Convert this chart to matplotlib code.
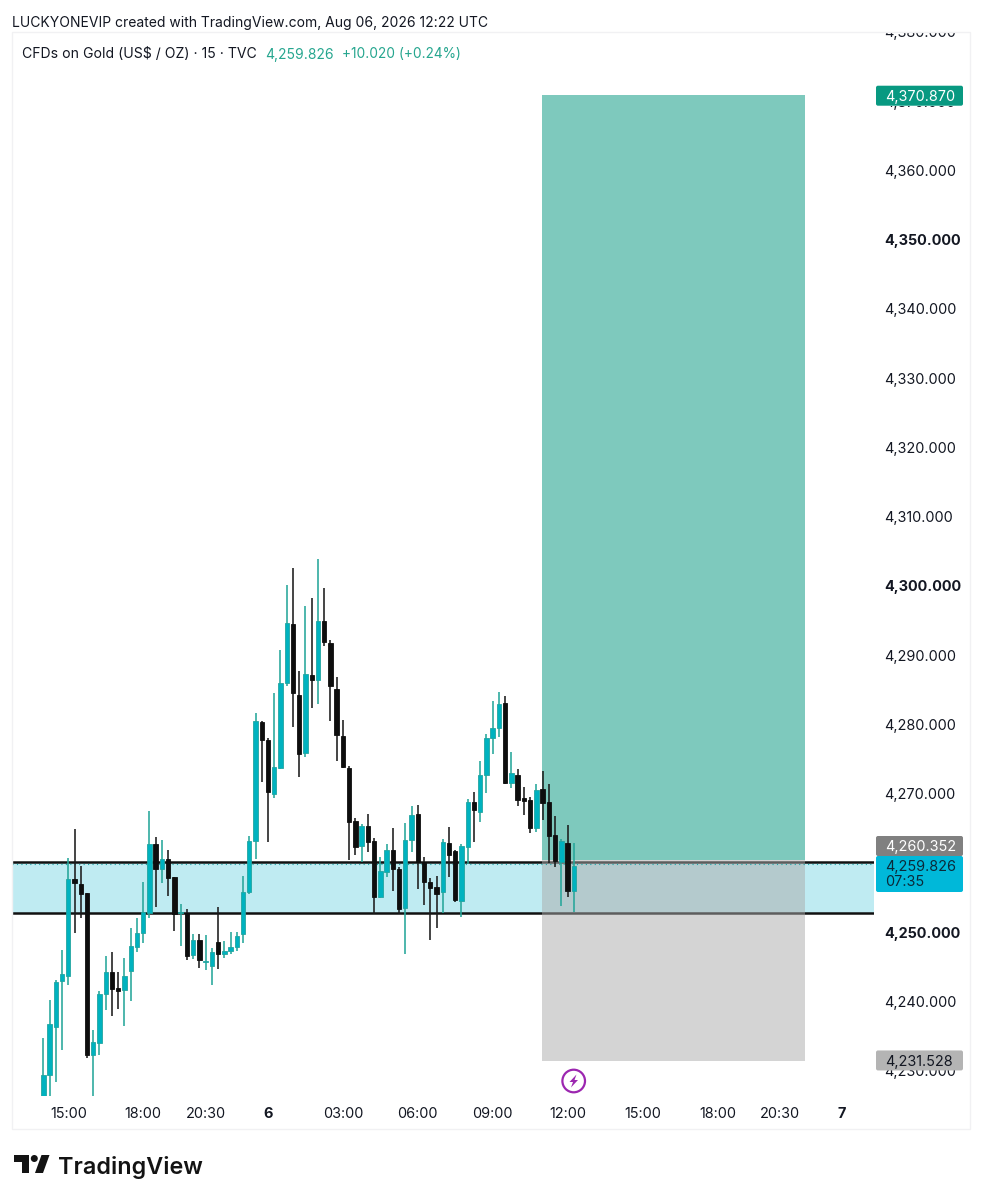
import numpy as np
import matplotlib
matplotlib.use('Agg')
import matplotlib.pyplot as plt
from matplotlib.patches import FancyBboxPatch, Polygon, Circle, Rectangle
from matplotlib.transforms import Bbox

plt.rcParams['font.family'] = ['Inter', 'DejaVu Sans']

# bars are 15 min apart, bar 0 is the 15:00 candle
bar_index = list(range(-4, 82))
opens = [4225.7, 4229.35, 4236.33, 4242.9, 4243.7, 4257.65, 4257.0, 4255.6, 4232.3, 4234.0,
         4241.0, 4244.3, 4241.9, 4241.6, 4244.4, 4247.9, 4249.85, 4252.7, 4262.66, 4259.05,
         4260.5, 4257.9, 4252.7, 4252.8, 4246.7, 4248.85, 4245.67, 4245.14, 4248.56, 4246.8,
         4247.3, 4247.8, 4249.66, 4255.8, 4263.18, 4280.4, 4277.8, 4270.0, 4273.7, 4286.0,
         4294.5, 4284.17, 4275.8, 4287.15, 4286.43, 4294.95, 4291.77, 4285.08, 4278.35, 4273.68,
         4266.0, 4262.4, 4265.3, 4263.1, 4255.1, 4258.7, 4261.8, 4259.04, 4253.5, 4263.28,
         4267.0, 4260.15, 4257.2, 4256.44, 4255.83, 4262.8, 4261.65, 4254.53, 4262.23, 4268.72,
         4267.4, 4272.72, 4278.06, 4279.46, 4283.1, 4271.56, 4272.72, 4269.35, 4269.06, 4265.1,
         4270.6, 4268.77, 4263.96, 4260.16, 4262.85, 4255.9]
highs = [4234.65, 4240.2, 4243.07, 4247.4, 4260.64, 4264.9, 4259.6, 4255.7, 4235.9, 4241.5,
         4246.6, 4247.1, 4244.2, 4246.2, 4250.6, 4252.1, 4257.27, 4267.5, 4263.7, 4263.3,
         4261.9, 4257.94, 4254.0, 4253.3, 4249.7, 4249.7, 4249.56, 4247.65, 4253.66, 4248.75,
         4250.05, 4250.0, 4258.08, 4263.9, 4281.67, 4280.5, 4278.0, 4284.46, 4290.7, 4300.1,
         4302.6, 4287.7, 4297.07, 4298.27, 4303.95, 4299.76, 4292.16, 4286.86, 4280.7, 4273.96,
         4266.5, 4265.54, 4267.0, 4263.6, 4260.87, 4262.7, 4265.1, 4259.33, 4265.8, 4268.24,
         4268.33, 4260.87, 4257.74, 4258.08, 4263.5, 4265.16, 4261.84, 4262.7, 4269.16, 4270.3,
         4274.7, 4278.55, 4283.4, 4284.6, 4284.08, 4276.0, 4273.54, 4270.9, 4269.54, 4271.33,
         4273.2, 4271.37, 4266.75, 4263.43, 4265.5, 4262.8]
lows = [4224.8, 4224.0, 4228.4, 4232.96, 4242.35, 4249.8, 4252.1, 4231.85, 4224.0, 4232.3,
        4238.7, 4237.9, 4238.9, 4236.4, 4240.0, 4247.07, 4248.36, 4252.1, 4253.66, 4257.1,
        4255.25, 4250.2, 4248.0, 4245.9, 4246.15, 4244.8, 4244.46, 4242.4, 4244.7, 4246.3,
        4246.9, 4247.3, 4248.36, 4255.5, 4260.5, 4271.7, 4263.0, 4269.3, 4273.5, 4285.6,
        4279.64, 4272.4, 4275.3, 4282.4, 4282.87, 4291.34, 4280.46, 4274.69, 4273.63, 4260.4,
        4261.1, 4260.15, 4261.6, 4252.55, 4254.95, 4258.0, 4255.96, 4252.55, 4246.77, 4261.6,
        4256.2, 4253.9, 4248.84, 4250.62, 4252.8, 4258.0, 4254.38, 4252.12, 4259.9, 4263.05,
        4265.93, 4270.03, 4275.66, 4278.2, 4271.4, 4270.84, 4268.24, 4266.9, 4264.35, 4264.44,
        4266.17, 4260.0, 4259.43, 4253.8, 4255.0, 4252.94]
closes = [4229.3, 4236.67, 4242.83, 4243.9, 4257.65, 4257.1, 4255.5, 4232.3, 4234.07, 4241.05,
          4244.3, 4241.8, 4241.5, 4243.65, 4248.0, 4249.85, 4252.84, 4262.66, 4259.05, 4260.5,
          4257.8, 4252.6, 4252.9, 4246.5, 4248.85, 4245.9, 4245.8, 4247.1, 4246.9, 4247.3,
          4247.9, 4249.4, 4255.8, 4263.13, 4280.46, 4277.7, 4270.3, 4273.8, 4285.9, 4294.57,
          4284.5, 4275.7, 4287.2, 4286.43, 4294.95, 4291.9, 4285.56, 4278.44, 4273.77, 4265.93,
          4262.27, 4265.3, 4263.0, 4255.1, 4258.75, 4261.8, 4259.1, 4253.4, 4263.23, 4266.84,
          4260.15, 4257.17, 4256.3, 4255.48, 4263.0, 4261.2, 4254.62, 4262.37, 4268.77, 4267.67,
          4272.72, 4278.0, 4279.46, 4282.9, 4271.6, 4273.0, 4269.1, 4268.96, 4265.1, 4270.5,
          4268.68, 4263.9, 4260.2, 4263.19, 4255.9, 4259.58]

price_ticks = list(range(4230, 4390, 10))
bold_prices = [4250, 4300, 4350]
time_ticks = [0, 12, 22, 32, 44, 56, 68, 80, 92, 104, 114, 124]
time_labels = ['15:00', '18:00', '20:30', '6', '03:00', '06:00', '09:00', '12:00', '15:00', '18:00', '20:30', '7']
bold_times = ['6', '7']

zone_top = 4260.18
zone_bottom = 4252.8
last_price = 4259.826
entry = 4260.352
target = 4370.87
stop = 4231.528
tool_start = 76
tool_end = 118

W, H = 981, 1200
fig = plt.figure(figsize=(W / 100, H / 100), dpi=100, facecolor='white')

# pane in pixels: x 12-874, y 32-1096
ax = fig.add_axes([12 / W, 1 - 1096 / H, (874 - 12) / W, (1096 - 32) / H])
ax.set_xlim(-9.02, 129.1)
ax.set_ylim(4226.32, 4379.96)
for s in ax.spines.values():
    s.set_visible(False)

# support zone
ax.axhspan(zone_bottom, zone_top, color='#bfebf2', lw=0, zorder=1)
ax.axhline(zone_top, color='#111111', lw=1.8, zorder=1.1)
ax.axhline(zone_bottom, color='#111111', lw=1.8, zorder=1.1)

# long position tool
ax.add_patch(Rectangle((tool_start - 0.08, entry), tool_end - tool_start + 0.16, target - entry,
                       fc='#089981', alpha=0.52, lw=0, zorder=2))
ax.add_patch(Rectangle((tool_start - 0.08, stop - 0.1), tool_end - tool_start + 0.16, entry - stop + 0.1,
                       fc='#aaaaaa', alpha=0.5, lw=0, zorder=2))

ax.axhline(last_price, color='#1aa6a6', lw=0.8, ls=(0, (1, 3)), zorder=2.2)

o = np.array(opens)
c = np.array(closes)
x = np.array(bar_index)
up = c >= o
wick_colors = ['#26a69a' if u else '#1c1c1c' for u in up]
ax.vlines(x, lows, highs, colors=wick_colors, lw=1.15, zorder=3)
ax.bar(x[up], (c - o)[up], bottom=o[up], width=0.7, color='#00b2bf', edgecolor='#22a5a0', lw=0.6, zorder=3.1)
ax.bar(x[~up], (o - c)[~up], bottom=c[~up], width=0.7, color='#0e0e0e', edgecolor='#0e0e0e', lw=0.6, zorder=3.1)

# axes labels
ax.yaxis.tick_right()
ax.set_yticks(price_ticks)
ax.set_yticklabels([f'{p:,.3f}' for p in price_ticks])
ax.tick_params(axis='y', length=0, pad=7.4, labelsize=10.4, labelcolor='#131722')
clip_box = Bbox([[0, 1 - 1129 / H], [1, 1 - 32 / H]])
flag_clip = Bbox([[0, 1 - 1129 / H], [1, 1 - 106 / H]])
for p, lab in zip(price_ticks, ax.get_yticklabels()):
    if p in bold_prices:
        lab.set_fontweight('bold')
    # the 4,370 label sits behind the target flag, only its foot shows
    box = flag_clip if p == 4370 else clip_box
    lab.set_clip_box(box.transformed(fig.transFigure))
    lab.set_clip_on(True)
ax.set_xticks(time_ticks)
ax.set_xticklabels(time_labels)
ax.tick_params(axis='x', length=0, pad=8, labelsize=10.4, labelcolor='#131722')
for lab in ax.get_xticklabels():
    if lab.get_text() in bold_times:
        lab.set_fontweight('bold')

# overlay in pixel coordinates for frame, flags, header and logo
ov = fig.add_axes([0, 0, 1, 1], facecolor='none', zorder=5)
ov.set_xlim(0, W)
ov.set_ylim(H, 0)
ov.axis('off')
ov.add_patch(Rectangle((12, 32), 958, 1097, fc='none', ec='#f1f1f3', lw=1))


def price_y(p):
    return H - ax.transData.transform((0, p))[1]


def flag(top, bottom, color, text, text_color, y_text=None):
    ov.add_patch(FancyBboxPatch((876, top), 87, bottom - top, boxstyle='round,pad=0,rounding_size=2',
                                fc=color, ec='none', mutation_aspect=1))
    ov.text(885, (top + bottom) / 2 if y_text is None else y_text, text, color=text_color,
            fontsize=10.4, va='center_baseline', ha='left')


y = price_y(target)
flag(y - 9.5, y + 10.5, '#089981', f'{target:,.3f}', 'white')
y = price_y(stop)
flag(y - 9.5, y + 10.5, '#b4b4b4', f'{stop:,.3f}', '#131722')
flag(836, 856, '#808080', f'{entry:,.3f}', 'white')
flag(856, 892, '#00b8d9', f'{last_price:,.3f}', '#0b2a3a', y_text=865)
ov.text(885, 881, '07:35', color='#0b2a3a', fontsize=10.4, va='center_baseline', ha='left')

# header
ov.text(12, 21, 'LUCKYONEVIP created with TradingView.com, Aug 06, 2026 12:22 UTC',
        fontsize=10.03, color='#131722', va='center_baseline')
ov.text(22, 53, 'CFDs on Gold (US$ / OZ) · 15 · TVC', fontsize=10.1, color='#131722', va='center_baseline')
ov.text(265, 53, '4,259.826', fontsize=10, color='#26a68f', va='center_baseline')
ov.text(342, 53, '+10.020 (+0.24%)', fontsize=9.85, color='#26a68f', va='center_baseline')

# alert icon
ov.add_patch(Circle((573.7, 1081), 11.3, fc='white', ec='#9c27b0', lw=1.6))
ov.add_patch(Polygon([(576.5, 1074.5), (569.5, 1082), (573, 1082), (571, 1087.5), (578, 1080), (574.5, 1080)],
                     fc='#9c27b0', ec='none'))

# logo
ov.add_patch(Polygon([(14, 1155), (29, 1155), (29, 1173), (22, 1173), (22, 1162), (14, 1162)], fc='#131313', ec='none'))
ov.add_patch(Circle((34.3, 1158.5), 3.5, fc='#131313', ec='none'))
ov.add_patch(Polygon([(41.5, 1155), (49.5, 1155), (43, 1173), (35, 1173)], fc='#131313', ec='none'))
ov.text(58, 1165, 'TradingView', fontsize=16.8, fontweight='semibold', color='#131313', va='center_baseline')

fig.savefig('out.png', dpi=100)
